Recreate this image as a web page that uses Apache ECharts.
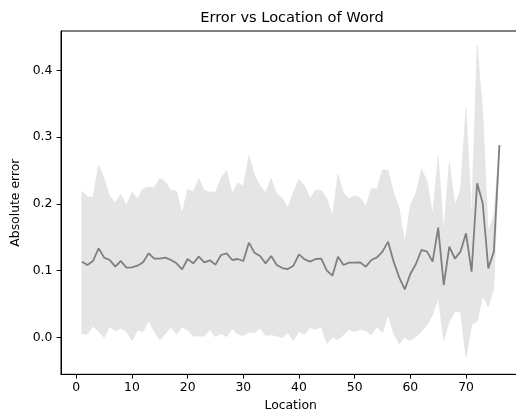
<!DOCTYPE html>
<html>
<head>
<meta charset="utf-8">
<script src="https://cdn.jsdelivr.net/npm/echarts@6/dist/echarts.min.js"></script>
<style>
  html, body { margin: 0; padding: 0; background: #ffffff; }
  #chart { width: 516px; height: 418px; }
</style>
</head>
<body>
<div id="chart"></div>
<script>
// Word position within the sentence
const locations = [
  1, 2, 3, 4, 5, 6, 7, 8, 9, 10,
  11, 12, 13, 14, 15, 16, 17, 18, 19, 20,
  21, 22, 23, 24, 25, 26, 27, 28, 29, 30,
  31, 32, 33, 34, 35, 36, 37, 38, 39, 40,
  41, 42, 43, 44, 45, 46, 47, 48, 49, 50,
  51, 52, 53, 54, 55, 56, 57, 58, 59, 60,
  61, 62, 63, 64, 65, 66, 67, 68, 69, 70,
  71, 72, 73, 74, 75, 76
];

// Mean absolute error per location
const meanError = [
  0.1135, 0.1085, 0.1145, 0.1335, 0.1195, 0.116, 0.106, 0.1145, 0.1045, 0.105,
  0.1075, 0.1125, 0.126, 0.118, 0.118, 0.1195, 0.116, 0.111, 0.102, 0.1175,
  0.111, 0.121, 0.1125, 0.1155, 0.109, 0.1235, 0.126, 0.116, 0.1175, 0.1145,
  0.142, 0.127, 0.122, 0.111, 0.122, 0.1085, 0.104, 0.1025, 0.1075, 0.1245,
  0.117, 0.1135, 0.1175, 0.118, 0.100, 0.0925, 0.121, 0.1085, 0.112, 0.112,
  0.1125, 0.106, 0.116, 0.120, 0.1285, 0.1435, 0.1135, 0.090, 0.072, 0.095,
  0.110, 0.131, 0.1285, 0.1135, 0.1645, 0.0785, 0.136, 0.118, 0.1285, 0.156,
  0.0985, 0.231, 0.201, 0.1035, 0.1285, 0.288
];

// Upper edge of the spread (mean + std)
const upperError = [
  0.219, 0.211, 0.210, 0.258, 0.238, 0.211, 0.202, 0.214, 0.198, 0.218,
  0.208, 0.223, 0.225, 0.224, 0.238, 0.233, 0.220, 0.219, 0.186, 0.222,
  0.218, 0.238, 0.220, 0.218, 0.217, 0.239, 0.250, 0.215, 0.232, 0.226,
  0.272, 0.243, 0.227, 0.217, 0.238, 0.215, 0.208, 0.194, 0.218, 0.237,
  0.227, 0.208, 0.221, 0.220, 0.208, 0.181, 0.244, 0.216, 0.208, 0.212,
  0.209, 0.196, 0.223, 0.222, 0.251, 0.250, 0.216, 0.193, 0.141, 0.198,
  0.216, 0.252, 0.234, 0.184, 0.271, 0.158, 0.262, 0.198, 0.221, 0.343,
  0.181, 0.437, 0.336, 0.158, 0.183, 0.288
];

// Lower edge of the spread (mean - std)
const lowerError = [
  0.005, 0.005, 0.017, 0.009, 0.000, 0.016, 0.010, 0.014, 0.009, -0.005,
  0.011, 0.009, 0.025, 0.009, -0.004, 0.006, 0.015, 0.005, 0.016, 0.011,
  0.002, 0.002, 0.002, 0.012, 0.001, 0.006, 0.001, 0.013, 0.005, 0.003,
  0.008, 0.007, 0.014, 0.003, 0.004, 0.002, 0.000, 0.007, -0.005, 0.009,
  0.005, 0.015, 0.012, 0.016, -0.009, 0.000, -0.003, 0.004, 0.012, 0.009,
  0.012, 0.010, 0.004, 0.016, 0.007, 0.034, 0.006, -0.010, 0.000, -0.005,
  0.001, 0.009, 0.019, 0.034, 0.059, -0.004, 0.024, 0.039, 0.039, -0.030,
  0.019, 0.024, 0.062, 0.046, 0.074, 0.288
];

const xTicks = [0, 10, 20, 30, 40, 50, 60, 70];
const yTicks = [0.0, 0.1, 0.2, 0.3, 0.4];

const FONT = 'DejaVu Sans';
const pairs = ys => ys.map((y, i) => [locations[i], y]);
const spreadRows = locations.map((x, i) => [x, lowerError[i], upperError[i]]);

const chart = echarts.init(document.getElementById('chart'), null, { renderer: 'canvas' });

const axisLineStyle = { color: '#000', width: 1 };
const tickStyle = { show: true, inside: false, length: 4.3, lineStyle: { color: '#000', width: 1 } };
const labelFont = { fontFamily: FONT, fontSize: 12.4, color: '#000' };

// Shaded spread: one polygon along the upper edge and back along the lower edge
function renderSpread(params, api) {
  if (params.dataIndex !== 0) return null;
  const top = [], bottom = [];
  for (let i = 0; i < spreadRows.length; i++) {
    const r = spreadRows[i];
    top.push(api.coord([r[0], r[2]]));
    bottom.push(api.coord([r[0], r[1]]));
  }
  return {
    type: 'polygon',
    shape: { points: top.concat(bottom.reverse()) },
    style: { fill: '#e5e5e5', stroke: '#e1e1e1', lineWidth: 0.6 }
  };
}

chart.setOption({
  animation: false,
  backgroundColor: '#ffffff',
  // Chart title, centred over the plot area
  graphic: [
    {
      type: 'text',
      x: 292,
      y: 18.4,
      style: {
        text: 'Error vs Location of Word',
        fontFamily: FONT,
        fontSize: 14.6,
        fill: '#000',
        align: 'center',
        verticalAlign: 'middle'
      }
    }
  ],
  grid: {
    left: 61,
    top: 31,
    width: 459.3,
    height: 343.3,
    show: true,
    borderColor: '#000',
    borderWidth: 1,
    backgroundColor: 'transparent',
    outerBoundsMode: 'none',
    containLabel: false
  },
  xAxis: {
    type: 'value',
    min: -2.75,
    max: 79.75,
    name: 'Location',
    nameLocation: 'middle',
    nameGap: 25,
    nameTextStyle: labelFont,
    splitLine: { show: false },
    axisLine: { show: true, onZero: false, lineStyle: axisLineStyle },
    axisTick: Object.assign({}, tickStyle, { customValues: xTicks }),
    axisLabel: Object.assign({ customValues: xTicks, margin: 7.5 }, labelFont)
  },
  yAxis: {
    type: 'value',
    min: -0.0552,
    max: 0.459,
    name: 'Absolute error',
    nameLocation: 'middle',
    nameRotate: 90,
    nameGap: 37,
    nameTextStyle: labelFont,
    splitLine: { show: false },
    axisLine: { show: true, onZero: false, lineStyle: axisLineStyle },
    axisTick: Object.assign({}, tickStyle, { customValues: yTicks }),
    axisLabel: Object.assign({ customValues: yTicks, margin: 8.6, formatter: v => v.toFixed(1) }, labelFont)
  },
  series: [
    {
      name: 'spread',
      type: 'custom',
      renderItem: renderSpread,
      data: spreadRows,
      encode: { x: 0, y: [1, 2] },
      silent: true,
      z: 1
    },
    {
      name: 'mean',
      type: 'line',
      data: pairs(meanError),
      symbol: 'none',
      lineStyle: { color: '#7f7f7f', width: 1.8 },
      z: 3
    }
  ]
});
</script>
</body>
</html>
